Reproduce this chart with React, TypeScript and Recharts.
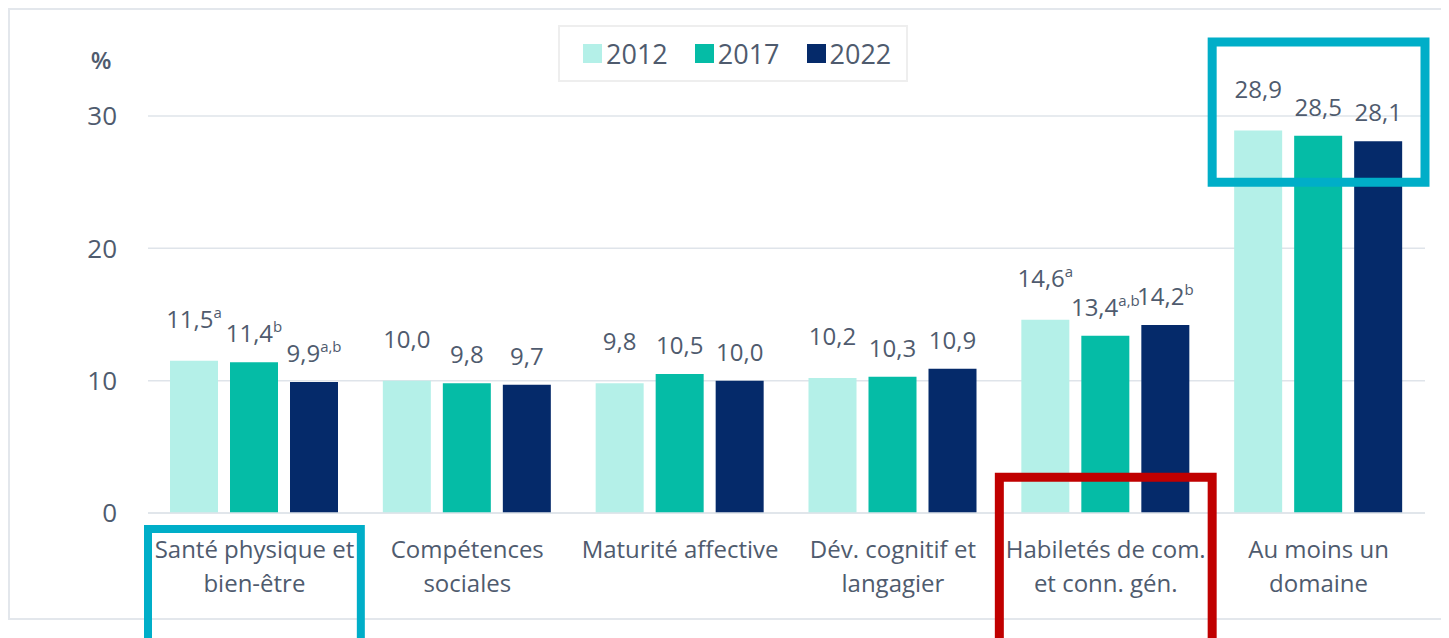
import { BarChart, Bar, XAxis, YAxis, CartesianGrid, LabelList, Legend, ReferenceArea } from "recharts";

// data
const categories = [
  "Santé physique et\nbien-être",
  "Compétences\nsociales",
  "Maturité affective",
  "Dév. cognitif et\nlangagier",
  "Habiletés de com.\net conn. gén.",
  "Au moins un\ndomaine",
];
const years = ["2012", "2017", "2022"];
const values2012 = [11.5, 10.0, 9.8, 10.2, 14.6, 28.9];
const values2017 = [11.4, 9.8, 10.5, 10.3, 13.4, 28.5];
const values2022 = [9.9, 9.7, 10.0, 10.9, 14.2, 28.1];
const sup2012 = ["a", "", "", "", "a", ""];
const sup2017 = ["b", "", "", "", "a,b", ""];
const sup2022 = ["a,b", "", "", "", "b", ""];
const yTicks = [0, 10, 20, 30];

const FONT = "'Open Sans', sans-serif";
const TEXT = "#4f5b6e";
const GRID = "#dfe4ea";
const colors = ["#b4f0e8", "#05bca6", "#052a6a"];
const CYAN = "#00aec8";
const RED = "#c00000";

const fmt = (v: number) => v.toFixed(1).replace(".", ",");

const data = categories.map((name, i) => ({
  name,
  v2012: values2012[i],
  v2017: values2017[i],
  v2022: values2022[i],
  l2012: fmt(values2012[i]) + "|" + sup2012[i],
  l2017: fmt(values2017[i]) + "|" + sup2017[i],
  l2022: fmt(values2022[i]) + "|" + sup2022[i],
}));

const valueLabel = (lift: number) => (props: any) => {
  const vb = props.viewBox ?? props;
  const x = vb.x ?? props.x;
  const y = vb.y ?? props.y;
  const width = vb.width ?? props.width;
  const [main, sup] = String(props.value).split("|");
  return (
    <text x={x + width / 2} y={y - lift} textAnchor="middle" fill={TEXT} fontSize={24} fontFamily={FONT}>
      {main}
      {sup ? <tspan fontSize={15} dy={-10}>{sup}</tspan> : null}
    </text>
  );
};

const CategoryTick = (props: any) => {
  const { x, y, payload } = props;
  const lines = String(payload.value).split("\n");
  return (
    <text x={x} y={y} textAnchor="middle" fill={TEXT} fontSize={24} fontFamily={FONT}>
      {lines.map((l, i) => (
        <tspan key={i} x={x} dy={i === 0 ? 37 : 34}>{l}</tspan>
      ))}
    </text>
  );
};

const LegendBox = () => (
  <div
    style={{
      boxSizing: "border-box",
      width: 350,
      height: 57,
      border: "2px solid #eeeeee",
      display: "flex",
      alignItems: "center",
      paddingLeft: 23,
      gap: 27,
      fontFamily: FONT,
      fontSize: 27,
      color: TEXT,
    }}
  >
    {years.map((y, i) => (
      <div key={y} style={{ display: "flex", alignItems: "center", gap: 4 }}>
        <span style={{ width: 19, height: 19, background: colors[i], display: "inline-block" }} />
        <span>{y}</span>
      </div>
    ))}
  </div>
);

export default function App() {
  return (
    <div style={{ position: "relative", width: 1441, height: 630, overflow: "hidden" }}>
      <div
        style={{
          position: "absolute",
          left: 0,
          top: 0,
          width: 1500,
          height: 612,
          boxSizing: "border-box",
          borderTop: "2px solid #e3e7ec",
          borderLeft: "2px solid #e3e7ec",
          borderBottom: "2px solid #e3e7ec",
        }}
      />
      <BarChart
        width={1441}
        height={630}
        data={data}
        margin={{ top: 108, right: 24, left: 0, bottom: 65 }}
        barGap={12}
        style={{ position: "relative" }}
      >
        <CartesianGrid vertical={false} stroke={GRID} strokeWidth={1.5} />
        <XAxis
          dataKey="name"
          interval={0}
          height={60}
          tickLine={false}
          axisLine={{ stroke: GRID, strokeWidth: 1.5 }}
          tick={<CategoryTick />}
        />
        <YAxis
          width={140}
          domain={[0, 30]}
          ticks={yTicks}
          tickLine={false}
          axisLine={false}
          tickSize={6}
          tickMargin={25}
          tick={{ fill: TEXT, fontSize: 26, fontFamily: FONT }}
          label={{ value: "%", position: "top", offset: 47, dx: 23, fill: TEXT, fontSize: 24, fontWeight: 600, fontFamily: FONT }}
        />
        <Legend
          layout="horizontal"
          verticalAlign="middle"
          wrapperStyle={{ top: 17, left: 550, width: 350 }}
          content={() => <LegendBox />}
        />
        <Bar dataKey="v2012" name="2012" fill={colors[0]} barSize={48} isAnimationActive={false}>
          <LabelList dataKey="l2012" content={valueLabel(33)} />
        </Bar>
        <Bar dataKey="v2017" name="2017" fill={colors[1]} barSize={48} isAnimationActive={false}>
          <LabelList dataKey="l2017" content={valueLabel(20)} />
        </Bar>
        <Bar dataKey="v2022" name="2022" fill={colors[2]} barSize={48} isAnimationActive={false}>
          <LabelList dataKey="l2022" content={valueLabel(20)} />
        </Bar>
        <ReferenceArea
          x1={categories[5]}
          x2={categories[5]}
          y1={25}
          y2={35.6}
          ifOverflow="visible"
          fill="none"
          fillOpacity={0}
          stroke={CYAN}
          strokeWidth={9}
          zIndex={1500}
        />
        <ReferenceArea
          x1={categories[0]}
          x2={categories[0]}
          y1={-12}
          y2={-1.2}
          ifOverflow="visible"
          fill="none"
          fillOpacity={0}
          stroke={CYAN}
          strokeWidth={8}
          zIndex={1500}
        />
        <ReferenceArea
          x1={categories[4]}
          x2={categories[4]}
          y1={-12}
          y2={2.7}
          ifOverflow="visible"
          fill="none"
          fillOpacity={0}
          stroke={RED}
          strokeWidth={9}
          zIndex={1500}
        />
      </BarChart>
    </div>
  );
}
